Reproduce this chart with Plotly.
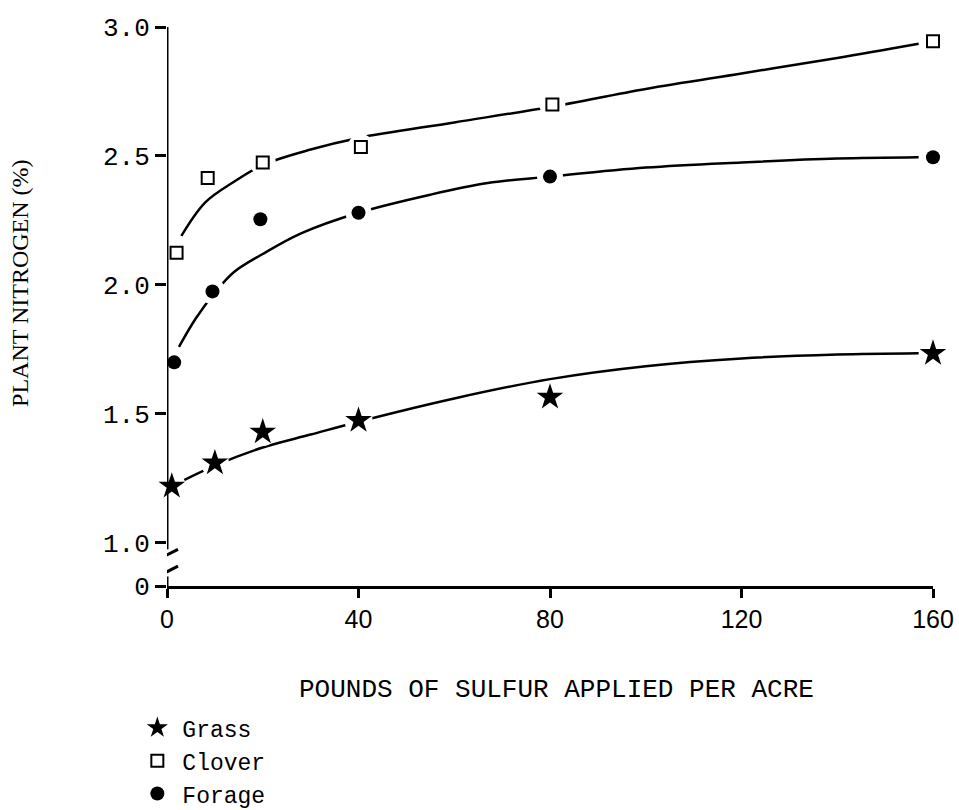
import plotly.graph_objects as go

# ---- data ----
grass_x = [1, 10, 20, 40, 80, 160]
grass_y = [1.22, 1.31, 1.43, 1.475, 1.565, 1.735]
clover_x = [2, 8.5, 20, 40.5, 80.5, 160]
clover_y = [2.125, 2.415, 2.475, 2.535, 2.70, 2.945]
forage_x = [1.5, 9.5, 19.5, 40, 80, 160]
forage_y = [1.70, 1.975, 2.255, 2.28, 2.42, 2.495]

# fitted curves
grass_cx = [1, 10, 20, 30, 40, 60, 80, 100, 120, 140, 157]
grass_cy = [1.22, 1.30, 1.37, 1.42, 1.47, 1.56, 1.635, 1.685, 1.715, 1.73, 1.735]
clover_cx = [3, 8, 14, 20, 30, 40, 60, 80, 100, 120, 140, 157]
clover_cy = [2.19, 2.32, 2.40, 2.465, 2.525, 2.57, 2.63, 2.69, 2.76, 2.82, 2.88, 2.935]
forage_cx = [2.5, 6, 10, 14, 20, 28, 40, 55, 67, 80, 100, 120, 140, 157]
forage_cy = [1.76, 1.87, 1.97, 2.05, 2.12, 2.20, 2.28, 2.35, 2.395, 2.42, 2.455, 2.475, 2.49, 2.495]

x_ticks = [0, 40, 80, 120, 160]
y_break = 0.833  # position standing for "0" below the axis break
y_tickvals = [y_break, 1.0, 1.5, 2.0, 2.5, 3.0]
y_ticktext = ["0", "1.0", "1.5", "2.0", "2.5", "3.0"]

MONO = "Liberation Mono, DejaVu Sans Mono, monospace"
SERIF = "Liberation Serif, DejaVu Serif, serif"
NARROW = "Liberation Sans Narrow, Liberation Sans, Arial, sans-serif"

fig = go.Figure()

# curves
for cx, cy in [(grass_cx, grass_cy), (clover_cx, clover_cy), (forage_cx, forage_cy)]:
    fig.add_trace(go.Scatter(x=cx, y=cy, mode="lines", line=dict(color="black", width=2.5, shape="spline"),
                             showlegend=False, hoverinfo="skip"))

# white halos to create gaps in curves around markers
fig.add_trace(go.Scatter(x=grass_x, y=grass_y, mode="markers", marker=dict(symbol="circle", size=28, color="white"),
                         showlegend=False, hoverinfo="skip", cliponaxis=False))
fig.add_trace(go.Scatter(x=clover_x, y=clover_y, mode="markers", marker=dict(symbol="circle", size=26, color="white"),
                         showlegend=False, hoverinfo="skip", cliponaxis=False))
fig.add_trace(go.Scatter(x=forage_x, y=forage_y, mode="markers", marker=dict(symbol="circle", size=26, color="white"),
                         showlegend=False, hoverinfo="skip", cliponaxis=False))

# markers
fig.add_trace(go.Scatter(x=grass_x, y=grass_y, mode="markers", name="Grass",
                         marker=dict(symbol="star", size=20, color="black", line=dict(width=0)), cliponaxis=False))
fig.add_trace(go.Scatter(x=clover_x, y=clover_y, mode="markers", name="Clover",
                         marker=dict(symbol="square", size=12, color="white", line=dict(color="black", width=2)),
                         cliponaxis=False))
fig.add_trace(go.Scatter(x=forage_x, y=forage_y, mode="markers", name="Forage",
                         marker=dict(symbol="circle", size=14, color="black", line=dict(width=0)), cliponaxis=False))

# broken y-axis line and break marks
shapes = [
    dict(type="line", xref="x", yref="y", x0=0, x1=0, y0=3.0, y1=0.975, line=dict(color="black", width=3), layer="above"),
    dict(type="line", xref="x", yref="y", x0=0, x1=0, y0=0.87, y1=y_break, line=dict(color="black", width=3), layer="above"),
    dict(type="line", xref="x", yref="y", x0=-2.5, x1=2.3, y0=0.93, y1=0.975, line=dict(color="black", width=3), layer="above"),
    dict(type="line", xref="x", yref="y", x0=-2.5, x1=2.3, y0=0.865, y1=0.91, line=dict(color="black", width=3), layer="above"),
]

fig.update_layout(
    width=959, height=810,
    margin=dict(l=167, r=26, t=27, b=224, autoexpand=False),
    paper_bgcolor="white", plot_bgcolor="white",
    shapes=shapes,
    showlegend=True,
    legend=dict(x=0.138, xref="container", y=0.128, yref="container", xanchor="left", yanchor="top",
                font=dict(family=MONO, size=23, color="black"), bgcolor="rgba(0,0,0,0)",
                tracegroupgap=0, itemwidth=40),
    xaxis=dict(range=[0, 160], tickvals=x_ticks, ticktext=[str(v) for v in x_ticks],
               showline=True, linecolor="black", linewidth=3, ticks="outside", ticklen=9, tickwidth=3,
               tickcolor="black", showgrid=False, zeroline=False,
               tickfont=dict(family=NARROW, size=25, color="black")),
    yaxis=dict(range=[y_break, 3.0], tickvals=y_tickvals, ticktext=y_ticktext,
               showline=False, ticks="outside", ticklen=11, tickwidth=3, tickcolor="black",
               showgrid=False, zeroline=False,
               tickfont=dict(family=MONO, size=26, color="black")),
    annotations=[
        dict(text="POUNDS OF SULFUR APPLIED PER ACRE", xref="paper", yref="paper", x=0.509, y=-0.186,
             xanchor="center", yanchor="middle", showarrow=False,
             font=dict(family=MONO, size=26, color="black")),
        dict(text="PLANT NITROGEN (%)", xref="paper", yref="paper", x=-0.192, y=0.542,
             xanchor="center", yanchor="middle", textangle=-90, showarrow=False,
             font=dict(family=SERIF, size=24, color="black")),
    ],
)

fig.write_html("out.html")
